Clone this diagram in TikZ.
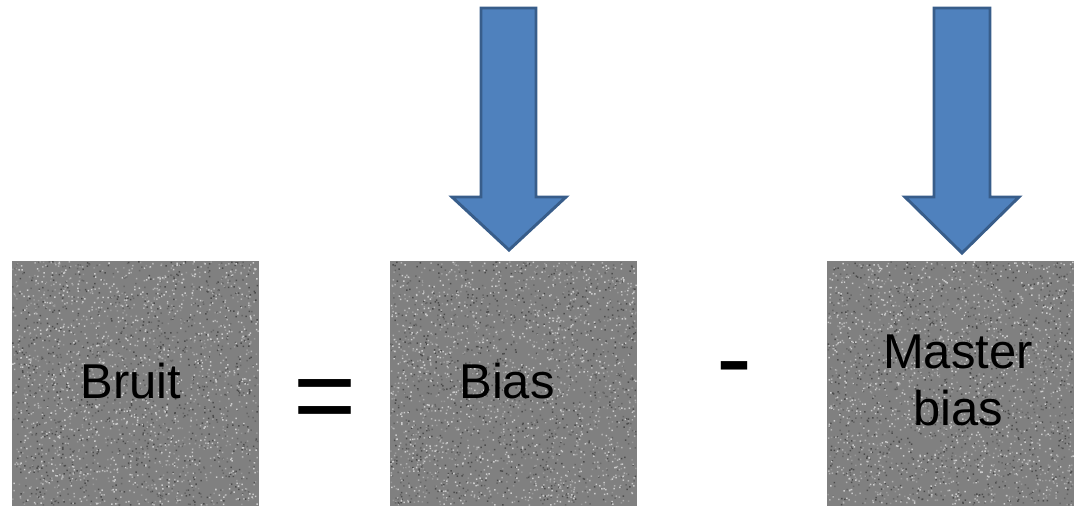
\documentclass[tikz,border=0pt]{standalone}
\usepackage{fontspec}
\setmainfont{Liberation Sans}
\definecolor{arrowfill}{HTML}{4F81BD}
\definecolor{arrowline}{HTML}{385D8A}
\definecolor{sqgray}{gray}{0.50}
\definecolor{nzA}{gray}{0.30}
\definecolor{nzB}{gray}{0.40}
\definecolor{nzC}{gray}{0.60}
\definecolor{nzD}{gray}{0.70}
\definecolor{nzE}{gray}{0.80}
\newcommand\noiselayer[3]{%
  \fill[#3] \foreach \i in {1,...,600}{ ({#1+rnd*245.5},{#2+rnd*243.5}) rectangle ++(1.5,1.5) };}
\newcommand\noisebox[2]{%
  \fill[sqgray] (#1,#2) rectangle ++(247,245);
  \noiselayer{#1}{#2}{nzA}\noiselayer{#1}{#2}{nzB}\noiselayer{#1}{#2}{nzC}%
  \noiselayer{#1}{#2}{nzD}\noiselayer{#1}{#2}{nzE}}
\tikzset{
  lbl/.style={inner sep=0pt, anchor=base, font=\fontsize{36.7}{43}\selectfont},
  op/.style={inner sep=0pt, anchor=base, font=\fontsize{81}{90}\selectfont},
  blockarrow/.style={fill=arrowfill, draw=arrowline, line width=2.2pt, line join=miter}
}
\begin{document}
\begin{tikzpicture}[x=0.75pt,y=-0.75pt]
\useasboundingbox (0,0) rectangle (1074,506);
\pgfmathsetseed{4242}
% squares
\noisebox{12}{261}
\noisebox{390}{261}
\noisebox{827}{261}
% labels
\node[lbl] (bruit) at (131,398) {Bruit};
\node[lbl] (bias) at (507,398) {Bias};
\node[lbl, align=center] (master) at (958,425) {Master\\[-0.5pt]bias};
% operators
\node[op] (eq) at (325,432) {=};
\node[op] (minus) at (734,394) {-};
% block arrows
\coordinate (a1) at (509,250);
\coordinate (a2) at (962,253);
\draw[blockarrow] (481,8) -- (536,8) -- (536,197) -- (566,197) -- (a1) -- (452,197) -- (481,197) -- cycle;
\draw[blockarrow] (934,8) -- (990,8) -- (990,197) -- (1019,197) -- (a2) -- (905,197) -- (934,197) -- cycle;
\end{tikzpicture}
\end{document}
